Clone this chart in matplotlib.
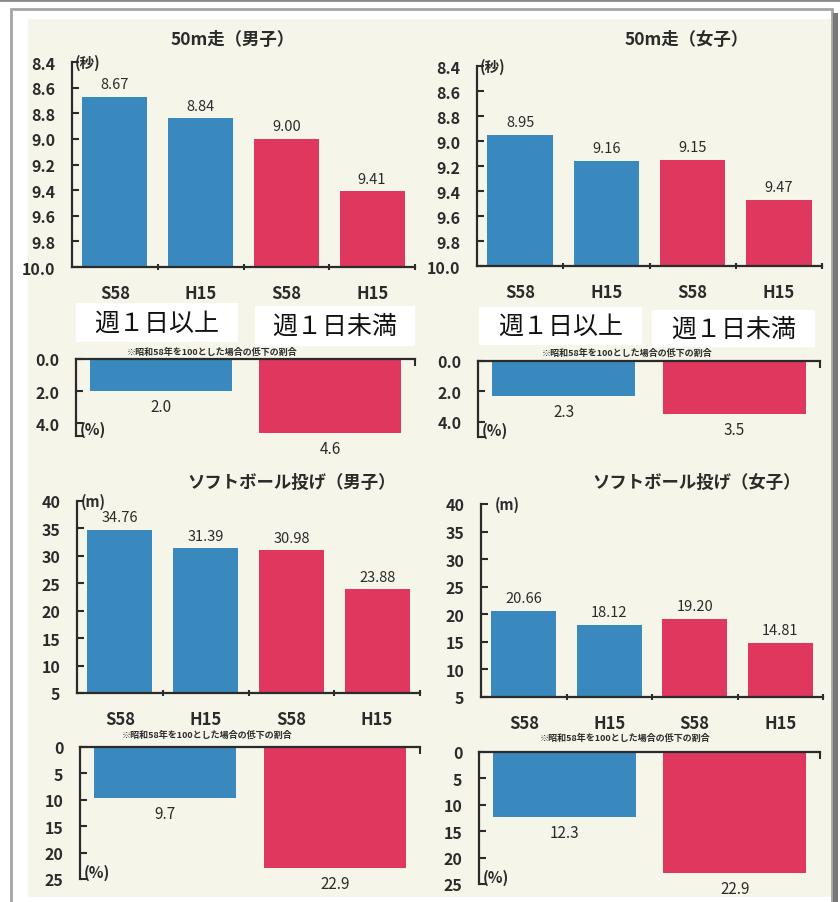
import numpy as np
import matplotlib
matplotlib.use('Agg')
from matplotlib import pyplot as plt
from matplotlib.patches import Rectangle
from matplotlib.lines import Line2D

plt.rcParams['font.family'] = ['Noto Sans CJK JP', 'DejaVu Sans']

# data
cats = ['S58', 'H15', 'S58', 'H15']
group_labels = ['週１日以上', '週１日未満']
titles = ['50m走（男子）', '50m走（女子）', 'ソフトボール投げ（男子）', 'ソフトボール投げ（女子）']
run_boys = [8.67, 8.84, 9.00, 9.41]
run_girls = [8.95, 9.16, 9.15, 9.47]
throw_boys = [34.76, 31.39, 30.98, 23.88]
throw_girls = [20.66, 18.12, 19.20, 14.81]
drop_run_boys = [2.0, 4.6]
drop_run_girls = [2.3, 3.5]
drop_throw_boys = [9.7, 22.9]
drop_throw_girls = [12.3, 22.9]
run_ticks = [8.4, 8.6, 8.8, 9.0, 9.2, 9.4, 9.6, 9.8, 10.0]
throw_ticks = [5, 10, 15, 20, 25, 30, 35, 40]
drop_run_ticks = [0.0, 2.0, 4.0]
drop_throw_ticks = [0, 5, 10, 15, 20, 25]
note = '※昭和58年を100とした場合の低下の割合'

blue = '#3a89be'
red = '#e0375f'
cream = '#f5f5ea'
ink = '#2b2b2b'
bar_colors = [blue, blue, red, red]

W, H = 840, 903
fig = plt.figure(figsize=(W / 100, H / 100), dpi=100)
fig.patch.set_facecolor('white')


def fx(x):
    return x / W


def fy(y):
    return 1 - y / H


def add_ax(x0, x1, ytop, ybot):
    ax = fig.add_axes([fx(x0), fy(ybot), (x1 - x0) / W, (ybot - ytop) / H])
    ax.set_facecolor('none')
    return ax


# frame and paper
fig.patches.append(Rectangle((fx(28), fy(898)), (831 - 28) / W, (898 - 20) / H,
                             transform=fig.transFigure, facecolor=cream,
                             edgecolor='none', zorder=-10))
fig.patches.append(Rectangle((fx(11), fy(910)), (832 - 11) / W, (910 - 10) / H,
                             transform=fig.transFigure, facecolor='none',
                             edgecolor='#a5a5a5', lw=2, zorder=-9))
fig.patches.append(Rectangle((fx(833), fy(903)), 5 / W, (903 - 14) / H,
                             transform=fig.transFigure, facecolor='#787878',
                             edgecolor='none', zorder=-9))
fig.add_artist(Line2D([0, 1], [fy(1), fy(1)], transform=fig.transFigure,
                      color='#8a8a8a', lw=2, zorder=-9))


def upper(ax, vals, base, top, ticks, tfmt, vfmt, unit, unit_dx, title, title_xy):
    x = np.arange(len(vals))
    ax.bar(x, [v - base for v in vals], bottom=base, width=0.76, color=bar_colors)
    ax.set_xlim(-0.5, 3.5)
    ax.set_ylim(base, top)
    for s in ['top', 'right']:
        ax.spines[s].set_visible(False)
    for s in ['left', 'bottom']:
        ax.spines[s].set_color(ink)
        ax.spines[s].set_linewidth(1.6)
    ax.set_xticks(x, cats, fontsize=12, color=ink, fontweight='bold')
    ax.set_xticks([0.5, 1.5, 2.5, 3.5], minor=True)
    ax.tick_params(axis='x', which='major', length=0, pad=12)
    ax.tick_params(axis='x', which='minor', direction='inout', length=5, width=1.5, color=ink)
    ax.set_yticks(ticks, [tfmt.format(t) for t in ticks], fontsize=11.5, color=ink,
                  fontweight='bold')
    ax.tick_params(axis='y', direction='in', length=5, width=1.5, color=ink, pad=12)
    for xi, v in zip(x, vals):
        ax.annotate(vfmt.format(v), (xi, v), xytext=(0, 4), textcoords='offset points',
                    ha='center', va='bottom', fontsize=10.5, color=ink)
    ax.annotate(unit, (0, 1), xycoords='axes fraction', xytext=(unit_dx, 0),
                textcoords='offset points', ha='left', va='center', fontsize=10.5,
                color=ink, fontweight='bold')
    fig.text(fx(title_xy[0]), fy(title_xy[1]), title, ha='center', va='center',
             fontsize=12.5, color=ink, fontweight='bold')


def lower(ax, vals, ymax, ticks, tfmt, vfmt, note_xy):
    ax.bar([0.5, 2.5], vals, width=1.68, color=[blue, red])
    ax.set_xlim(-0.5, 3.5)
    ax.set_ylim(ymax, 0)
    for s in ['bottom', 'right']:
        ax.spines[s].set_visible(False)
    for s in ['left', 'top']:
        ax.spines[s].set_color(ink)
        ax.spines[s].set_linewidth(1.6)
    ax.xaxis.tick_top()
    ax.set_xticks([])
    ax.set_xticks([3.5], minor=True)
    ax.tick_params(axis='x', which='minor', direction='in', length=5, width=1.5, color=ink)
    ax.set_yticks(ticks, [tfmt.format(t) for t in ticks], fontsize=11.5, color=ink,
                  fontweight='bold')
    ax.set_yticks([ymax], minor=True)
    ax.tick_params(axis='y', which='both', direction='in', length=5, width=1.5,
                   color=ink, pad=12)
    for xi, v in zip([0.5, 2.5], vals):
        ax.annotate(vfmt.format(v), (xi, v), xytext=(0, -5), textcoords='offset points',
                    ha='center', va='top', fontsize=11, color=ink)
    ax.annotate('(%)', (0, 0), xycoords='axes fraction', xytext=(3, 5),
                textcoords='offset points', ha='left', va='center', fontsize=11,
                color=ink, fontweight='bold')
    fig.text(fx(note_xy[0]), fy(note_xy[1]), note, ha='center', va='center',
             fontsize=6.5, color=ink, fontweight='bold')


def group_box(x0, y0, x1, y1, label):
    fig.patches.append(Rectangle((fx(x0), fy(y1)), (x1 - x0) / W, (y1 - y0) / H,
                                 transform=fig.transFigure, facecolor='white',
                                 edgecolor='none', zorder=5))
    fig.text(fx((x0 + x1) / 2), fy((y0 + y1) / 2), label, ha='center', va='center',
             fontsize=18, color='#111111', zorder=6)


# 50m run
ax1 = add_ax(72, 415, 63, 268)
upper(ax1, run_boys, 10.0, 8.4, run_ticks, '{:.1f}', '{:.2f}', '(秒)', 2,
      titles[0], (233, 40))
ax2 = add_ax(477, 822, 67, 267)
upper(ax2, run_girls, 10.0, 8.4, run_ticks, '{:.1f}', '{:.2f}', '(秒)', 2,
      titles[1], (687, 40))

# drop for run
ax1b = add_ax(76, 415, 360, 437)
lower(ax1b, drop_run_boys, 4.8, drop_run_ticks, '{:.1f}', '{:.1f}', (212, 352))
ax2b = add_ax(478, 820, 362, 438)
lower(ax2b, drop_run_girls, 5.0, drop_run_ticks, '{:.1f}', '{:.1f}', (627, 353))

group_box(76, 304, 238, 343, group_labels[0])
group_box(255, 307, 415, 347, group_labels[1])
group_box(479, 308, 642, 346, group_labels[0])
group_box(652, 311, 815, 348, group_labels[1])

# softball throw
ax3 = add_ax(77, 420, 502, 694)
upper(ax3, throw_boys, 5, 40, throw_ticks, '{:d}', '{:.2f}', '(m)', 3,
      titles[2], (292, 483))
ax4 = add_ax(481, 823, 505, 698)
upper(ax4, throw_girls, 5, 40, throw_ticks, '{:d}', '{:.2f}', '(m)', 10,
      titles[3], (697, 483))

ax3b = add_ax(80, 420, 748, 880)
lower(ax3b, drop_throw_boys, 25, drop_throw_ticks, '{:d}', '{:.1f}', (207, 735))
ax4b = add_ax(479, 820, 753, 885)
lower(ax4b, drop_throw_girls, 25, drop_throw_ticks, '{:d}', '{:.1f}', (625, 738))

fig.savefig('out.png', dpi=100, facecolor='white')
